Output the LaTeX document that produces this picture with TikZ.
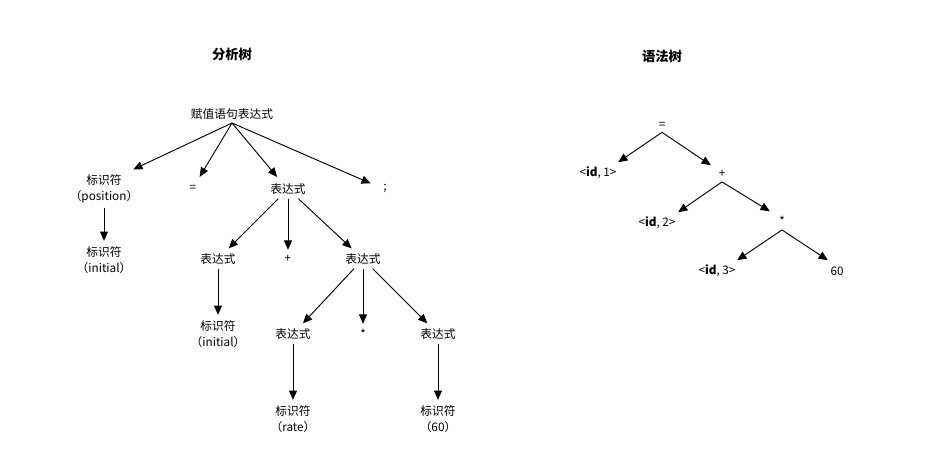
\documentclass[tikz,border=0pt]{standalone}
\usepackage{fontspec}
\setmainfont{Noto Sans CJK SC}
\usetikzlibrary{arrows.meta}
\begin{document}
\begin{tikzpicture}[x=0.75pt,y=-0.75pt,
  t/.style={font=\fontsize{8.8}{12}\selectfont,align=center,inner sep=3pt},
  ttl/.style={font=\fontsize{10}{12}\selectfont\bfseries},
  arr/.style={-{Triangle[length=7pt,width=6pt]},line width=0.7pt,shorten >=1pt}]
\fill[white] (0,0) rectangle (952,452);
\useasboundingbox (0,0) rectangle (952,452);
\node[ttl] (T1) at (232,54) {分析树};
\node[ttl] (T2) at (662,56) {语法树};
\node[t] (root) at (232,114) {赋值语句表达式};
\node[t] (id1) at (104,189) {标识符\\（position）};
\node[t] (eq) at (193,188) {=};
\node[t] (ex) at (288,189) {表达式};
\node[t] (semi) at (385,189) {;};
\node[t] (id2) at (104,260) {标识符\\（initial）};
\node[t] (e1) at (218,259) {表达式};
\node[t] (pl) at (288,259) {+};
\node[t] (e2) at (363,259) {表达式};
\node[t] (id3) at (218,334) {标识符\\（initial）};
\node[t] (e3) at (293,334) {表达式};
\node[t] (st) at (363,334) {*};
\node[t] (e4) at (438,334) {表达式};
\node[t] (id4) at (293,419) {标识符\\（rate）};
\node[t] (id5) at (438,419) {标识符\\（60）};
\coordinate (r0) at (232,123);
\draw[arr] (r0) -- (132,170);
\draw[arr] (r0) -- (199,178);
\draw[arr] (r0) -- (278,178);
\draw[arr] (r0) -- (372,184);
\draw[arr] (id1) -- (id2);
\draw[arr] (ex) -- (e1);
\draw[arr] (ex) -- (pl);
\draw[arr] (ex) -- (e2);
\draw[arr] (e1) -- (id3);
\draw[arr] (e2) -- (e3);
\draw[arr] (e2) -- (st);
\draw[arr] (e2) -- (e4);
\draw[arr] (e3) -- (id4);
\draw[arr] (e4) -- (id5);
% syntax tree
\node[t] (s0) at (662,125) {=};
\node[t] (s1) at (598,173) {<\textbf{id}, 1>};
\node[t] (s2) at (722,174) {+};
\node[t] (s3) at (657,223) {<\textbf{id}, 2>};
\node[t] (s4) at (782,221) {*};
\node[t] (s5) at (717,271) {<\textbf{id}, 3>};
\node[t] (s6) at (837,271) {60};
\draw[arr] (s0.south) -- (617,163);
\draw[arr] (s0.south) -- (712,166);
\draw[arr] (s2.south) -- (677,213);
\draw[arr] (s2.south) -- (771,212);
\draw[arr] (s4.south) -- (736,261);
\draw[arr] (s4.south) -- (829,261);
\end{tikzpicture}
\end{document}
